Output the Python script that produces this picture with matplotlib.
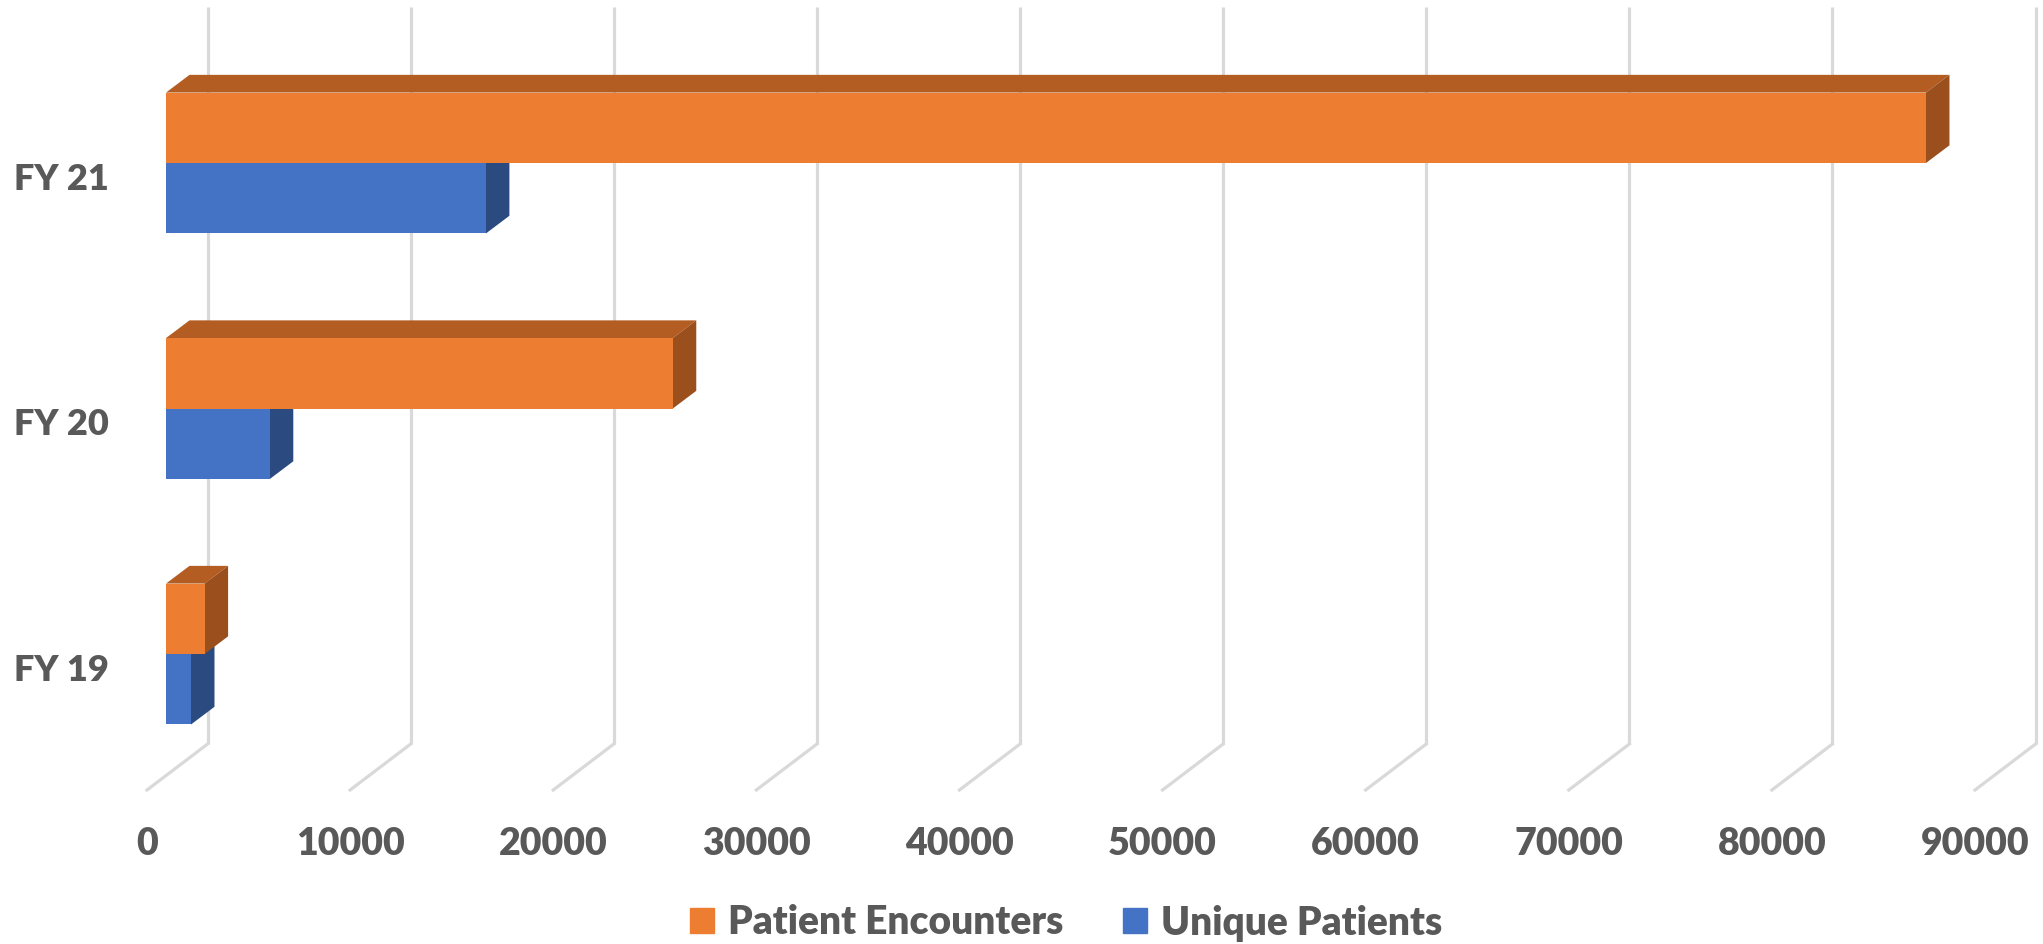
import numpy as np
import matplotlib.pyplot as plt
import matplotlib.transforms as mtransforms
from matplotlib.patches import Polygon, Patch

# data
years = ['FY 19', 'FY 20', 'FY 21']
encounters = [1900, 24950, 86650]
unique_pts = [1230, 5110, 15750]
xticks = [0, 10000, 20000, 30000, 40000, 50000, 60000, 70000, 80000, 90000]

orange, orange_top, orange_side = '#ED7D31', '#B45D22', '#9A4F1C'
blue, blue_top, blue_side = '#4472C4', '#34589A', '#2B4A80'
grid_col = '#D9D9D9'
txt_col = '#595959'

plt.rcParams['font.family'] = ['Lato', 'DejaVu Sans']
WEIGHT = 'heavy'

W, H = 2043, 944
fig = plt.figure(figsize=(W / 100, H / 100), dpi=100)
ax = fig.add_axes([166 / W, (H - 820) / H, 1828 / W, 820 / H])
ax.set_xlim(0, 90000)
ax.set_ylim(-0.676, 2.664)
ax.axis('off')


def shift(dx, dy):
    # offset in pixels (dy > 0 is up)
    return mtransforms.ScaledTranslation(dx / 100, dy / 100, fig.dpi_scale_trans)


# bar depth (oblique) in data units
inv = ax.transData.inverted()
p0 = inv.transform((0, 0))
p1 = inv.transform((23.5, 17.7))
ddx, ddy = p1 - p0

ypos = np.arange(len(years))
h = 0.287

# gridlines: vertical on back wall, diagonal across floor
blend = mtransforms.blended_transform_factory(ax.transData, ax.transAxes)
y_back = (820 - 744) / 820
y_top = (820 - 7) / 820
for v in xticks:
    ax.plot([v, v], [y_back, y_top], color=grid_col, lw=2.3,
            transform=blend + shift(41.6, 0), clip_on=False, zorder=1,
            solid_capstyle='butt')
    xb, yb = (blend + shift(41.6, 0)).transform((v, y_back))
    ax.plot([xb, xb - 60.6], [yb, yb - 46], color=grid_col, lw=2.3,
            transform=None, clip_on=False, zorder=1)


def bar3d(y0, v, front, top, side, z):
    y1 = y0 + h
    ax.add_patch(Polygon([(0, y1), (v, y1), (v + ddx, y1 + ddy), (ddx, y1 + ddy)],
                         closed=True, fc=top, lw=0, zorder=z, clip_on=False))
    ax.add_patch(Polygon([(v, y0), (v, y1), (v + ddx, y1 + ddy), (v + ddx, y0 + ddy)],
                         closed=True, fc=side, lw=0, zorder=z, clip_on=False))
    ax.barh(y0 + h / 2, v, height=h, color=front, lw=0, zorder=z + 0.1,
            clip_on=False)


for i in range(len(years)):
    bar3d(ypos[i] - h, unique_pts[i], blue, blue_top, blue_side, 3)
    bar3d(ypos[i], encounters[i], orange, orange_top, orange_side, 4)

# x tick labels along front edge of floor
for v in xticks:
    ax.text(v, (820 - 844) / 820, str(v), transform=blend + shift(-19, 0),
            ha='center', va='center', fontsize=27, color=txt_col,
            fontweight=WEIGHT)

# category labels
ylab = mtransforms.blended_transform_factory(fig.transFigure, ax.transData)
for i, lab in enumerate(years):
    ax.text(14 / W, ypos[i], lab, transform=ylab + shift(0, -16),
            ha='left', va='center', fontsize=26, color=txt_col,
            fontweight=WEIGHT)

handles = [Patch(color=orange, label='Patient Encounters'),
           Patch(color=blue, label='Unique Patients')]
fig.legend(handles=handles, loc='center', bbox_to_anchor=(1066 / W, 21 / H),
           ncol=2, frameon=False, handlelength=0.62,
           handleheight=0.62, handletextpad=0.35, columnspacing=1.55,
           labelcolor=txt_col, prop={'weight': WEIGHT, 'size': 28})

fig.savefig('out.png', dpi=100, facecolor='white')
